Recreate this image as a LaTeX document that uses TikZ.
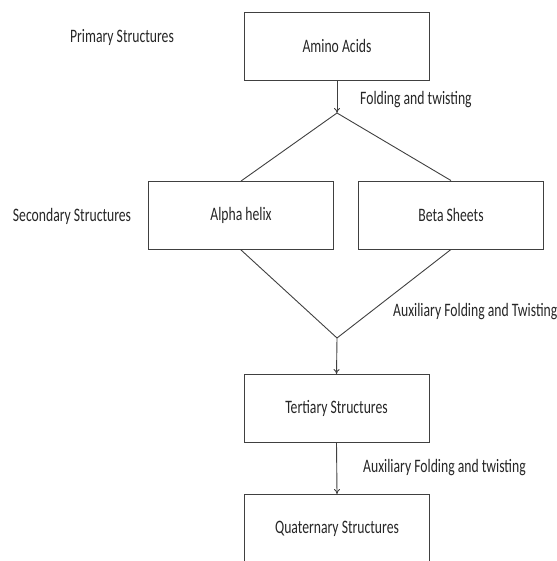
\documentclass[tikz,border=0pt]{standalone}
\usepackage{fontspec}
\setmainfont{Carlito}[FakeStretch=0.72]
\usetikzlibrary{positioning,arrows.meta}

\begin{document}
\begin{tikzpicture}[x=1pt,y=-1pt]
    \tikzstyle{box}=[draw=black!75, line width=0.9pt, rectangle, minimum width=185pt, minimum height=68pt, inner sep=0pt, text=black!85, font=\fontsize{19}{21}\selectfont]
    \tikzstyle{sidetext}=[inner sep=0pt, text=black!85, font=\fontsize{19}{21}\selectfont]
    \tikzstyle{edge}=[draw=black!75, line width=0.9pt]
    \tikzstyle{arrow}=[edge, -{To[length=5pt,width=6pt]}]

    \useasboundingbox (0,0) rectangle (556,561);
    \clip (0,0) rectangle (556,561);

    \node[box] (amino) at (337,46) {Amino Acids};
    \node[box] (alpha) at (241,215.5) {Alpha helix};
    \node[box] (beta) at (451,215) {Beta Sheets};
    \node[box] (tert) at (336.5,408.5) {Tertiary Structures};
    \node[box] (quat) at (337,528.5) {Quaternary Structures};

    \coordinate (top) at (337,113);
    \coordinate (mid) at (337,338);

    \draw[arrow] (amino.south) -- (top);
    \draw[edge] (top) -- (alpha.north);
    \draw[edge] (top) -- (beta.north);
    \draw[edge] (alpha.south) -- (mid);
    \draw[edge] (beta.south) -- (mid);
    \draw[arrow] (mid) -- (tert.north);
    \draw[arrow] (tert.south) -- (quat.north);

    \node[sidetext] (prim) at (122,37) {Primary Structures};
    \node[sidetext] (sec) at (72,216) {Secondary Structures};
    \node[sidetext, anchor=west] (fold1) at (360,100) {Folding and twisting};
    \node[sidetext, anchor=west] (fold2) at (393,312) {Auxiliary Folding and Twisting};
    \node[sidetext, anchor=west] (fold3) at (363,468) {Auxiliary Folding and twisting};
\end{tikzpicture}
\end{document}
